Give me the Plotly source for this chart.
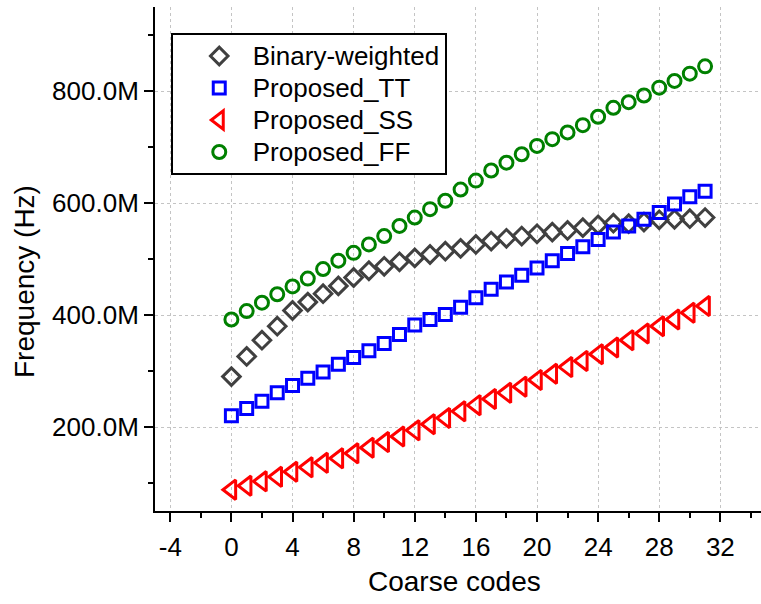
import plotly.graph_objects as go

# Coarse tuning codes and measured oscillation frequency (MHz)
codes = list(range(32))

binary_weighted = [290, 326, 355, 380, 408, 423, 438, 452, 467, 479,
                   487, 495, 502, 508, 514, 519, 526, 532, 537, 541,
                   545, 548, 551, 556, 561, 564, 563, 566, 570, 571,
                   572, 574]

proposed_tt = [220, 233, 246, 261, 274, 287, 298, 312, 324, 336,
               349, 365, 382, 392, 401, 414, 431, 446, 459, 471,
               484, 497, 510, 522, 535, 548, 559, 571, 583, 598,
               611, 621]

proposed_ss = [88, 95, 103, 111, 120, 128, 136, 144, 153, 163,
               173, 183, 194, 205, 216, 228, 239, 250, 261, 272,
               284, 295, 307, 318, 330, 342, 355, 367, 380, 392,
               404, 416]

proposed_ff = [392, 407, 422, 437, 451, 465, 482, 497, 511, 526,
               541, 559, 574, 589, 604, 624, 640, 658, 672, 687,
               702, 714, 726, 739, 754, 770, 780, 792, 806, 818,
               831, 844]

series_names = ["Binary-weighted", "Proposed_TT", "Proposed_SS", "Proposed_FF"]

x_tick_values = [-4, 0, 4, 8, 12, 16, 20, 24, 28, 32]
x_tick_labels = ["-4", "0", "4", "8", "12", "16", "20", "24", "28", "32"]

X_RANGE = [-5, 34.66]
Y_RANGE = [50, 950]
FONT = "Liberation Sans, Arial, Helvetica, sans-serif"

styles = [
    dict(symbol="diamond-open", color="#404040", size=13.5, lw=3),
    dict(symbol="square-open", color="#0000ff", size=12, lw=3),
    dict(symbol="triangle-left-open", color="#ff0000", size=17, lw=3),
    dict(symbol="circle-open", color="#008000", size=13, lw=3),
]

fig = go.Figure()
for name, values, st in zip(series_names,
                            [binary_weighted, proposed_tt, proposed_ss, proposed_ff],
                            styles):
    fig.add_trace(go.Scatter(
        x=codes, y=values, mode="markers",
        name="<span style='font-size:26px'>%s</span>" % name,
        marker=dict(symbol=st["symbol"], color=st["color"], size=st["size"],
                    line=dict(color=st["color"], width=st["lw"])),
    ))

axis_common = dict(
    showline=True, linecolor="black", linewidth=2,
    tickcolor="black", tickwidth=2, zeroline=False,
    tickfont=dict(family=FONT, size=26, color="black"),
)

fig.update_layout(
    width=761, height=604, autosize=False,
    margin=dict(l=155, r=0, t=7, b=93),
    plot_bgcolor="white", paper_bgcolor="white",
    font=dict(family=FONT, color="black"),
    showlegend=True,
    xaxis=dict(
        range=X_RANGE, tickmode="array", tickvals=x_tick_values,
        ticktext=x_tick_labels, ticks="outside", ticklen=9,
        showgrid=True, gridcolor="#c4c4c4", griddash="dot", gridwidth=1,
        minor=dict(tick0=0, dtick=2, ticks="outside", ticklen=5,
                   tickwidth=2, tickcolor="black", showgrid=False),
        ticklabelstandoff=3,
        **axis_common,
    ),
    yaxis=dict(
        range=Y_RANGE, tick0=0, dtick=200, ticks="outside", ticklen=9,
        tickformat=".1f", ticksuffix="M",
        showgrid=True, gridcolor="#c4c4c4", griddash="dot", gridwidth=1,
        minor=dict(tick0=0, dtick=100, ticks="outside", ticklen=5,
                   tickwidth=2, tickcolor="black", showgrid=False),
        ticklabelstandoff=0,
        **axis_common,
    ),
    xaxis2=dict(
        range=X_RANGE, overlaying="x", anchor="y", side="top",
        tick0=0, dtick=4, ticks="inside", ticklen=9, showticklabels=False,
        showgrid=False,
        minor=dict(tick0=0, dtick=2, ticks="inside", ticklen=5,
                   tickwidth=2, tickcolor="black", showgrid=False),
        **axis_common,
    ),
    yaxis2=dict(
        range=Y_RANGE, overlaying="y", anchor="x", side="right",
        tick0=0, dtick=200, ticks="inside", ticklen=3, showticklabels=False,
        showgrid=False, showline=False, linecolor="black", linewidth=2,
        tickcolor="black", tickwidth=2, zeroline=False,
    ),
    legend=dict(
        x=0.026, y=0.9484, xanchor="left", yanchor="top",
        bgcolor="white", bordercolor="black", borderwidth=2,
        font=dict(family=FONT, size=22.3, color="black"),
        itemwidth=57, indentation=13, tracegroupgap=0,
    ),
    annotations=[
        dict(text="Coarse codes", xref="paper", yref="paper",
             x=0.495, y=-0.139, xanchor="center", yanchor="middle",
             showarrow=False, font=dict(family=FONT, size=28, color="black")),
        dict(text="Frequency (Hz)", xref="paper", yref="paper",
             x=-0.2145, y=0.4544, xanchor="center", yanchor="middle",
             textangle=-90, showarrow=False,
             font=dict(family=FONT, size=28, color="black")),
    ],
)

fig.write_html("out.html")
